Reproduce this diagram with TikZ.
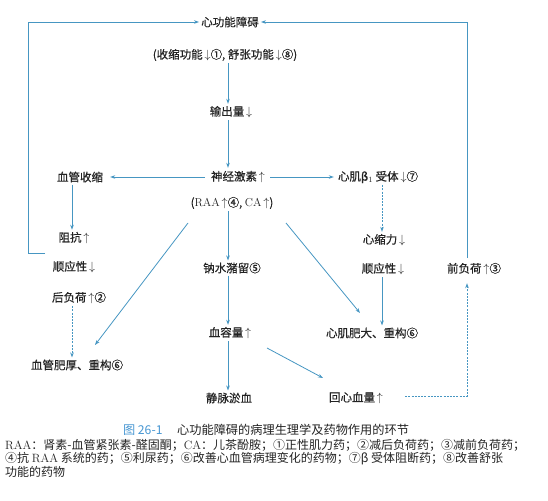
\documentclass[tikz,border=0pt]{standalone}
\usepackage{fontspec}
\newfontfamily\cjk{Noto Sans CJK SC}
\newfontfamily\cjkb[FakeBold=0.5]{Noto Sans CJK SC}
\usetikzlibrary{arrows.meta}
\definecolor{arrblue}{RGB}{70,150,194}
\definecolor{capblue}{RGB}{70,150,210}
\definecolor{txt}{RGB}{35,35,35}
\newcommand{\upa}{\,$\uparrow$}
\newcommand{\dna}{\,$\downarrow$}
\begin{document}
\begin{tikzpicture}[x=1pt,y=-1pt,
  lbl/.style={font=\cjkb\fontsize{11.5}{13}\selectfont, text=txt, inner sep=2pt},
  leg/.style={font=\cjk\fontsize{12}{13}\selectfont, text=txt, inner sep=0pt, anchor=west},
  arr/.style={draw=arrblue, line width=0.8pt, -{Stealth[length=5pt,width=3.6pt]}},
  arrd/.style={arr, dash pattern=on 2pt off 1.2pt}]
\useasboundingbox (0,0) rectangle (548,500);
\coordinate (vx) at (228,0);
\coordinate (lx) at (72,0);
\coordinate (rx) at (382,0);
% nodes
\node[lbl] (xgn) at (230,22) {心功能障碍};
\node[lbl] (paren) at (225,55) {(收缩功能\dna①, 舒张功能\dna⑧)};
\node[lbl] (scl) at (231,112) {输出量\dna};
\node[lbl] (sjjs) at (238,177) {神经激素\upa};
\node[lbl] (raa) at (232,203) {({\rmfamily RAA}\upa④, {\rmfamily CA}\upa)};
\node[lbl] (xgss) at (80,177) {血管收缩};
\node[lbl] (zk) at (74,238) {阻抗\upa};
\node[lbl] (syx1) at (74,267) {顺应性\dna};
\node[lbl] (hfh) at (79,298) {后负荷\upa②};
\node[lbl] (xgfh) at (77,365) {血管肥厚、重构⑥};
\node[lbl] (xjb) at (378,177) {心肌β$_1$ 受体\dna⑦};
\node[lbl] (xsl) at (384,240) {心缩力\dna};
\node[lbl] (syx2) at (383,269) {顺应性\dna};
\node[lbl] (xjfd) at (372,333) {心肌肥大、重构⑥};
\node[lbl] (qfh) at (474,269) {前负荷\upa③};
\node[lbl] (nszl) at (232,268) {钠水潴留⑤};
\node[lbl] (xrl) at (230,333) {血容量\upa};
\node[lbl] (jmyx) at (229,398) {静脉淤血};
\node[lbl] (hxxl) at (356,398) {回心血量\upa};
% connectors
\draw[arr] (paren.south -| vx) -- (scl.north -| vx);
\draw[arr] (scl.south -| vx) -- ([yshift=1pt]sjjs.north -| vx);
\draw[arr] (raa.south -| vx) -- (nszl.north -| vx);
\draw[arr] (nszl.south -| vx) -- (xrl.north -| vx);
\draw[arr] (xrl.south -| vx) -- (jmyx.north -| vx);
\draw[arr] ([xshift=-4pt]sjjs.west) -- ([xshift=5pt]xgss.east);
\draw[arr] ([xshift=3pt]sjjs.east) -- ([xshift=-2pt]xjb.west);
\draw[arr] (xgss.south -| lx) -- (zk.north -| lx);
\draw[arrd] (hfh.south -| lx) -- (xgfh.north -| lx);
\draw[arrd] (xjb.south -| rx) -- (xsl.north -| rx);
\draw[arr] (syx2.south -| rx) -- (xjfd.north -| rx);
\draw[arr] ([shift={(-44,20)}]raa.center) -- ([shift={(18,-20)}]xgfh.center);
\draw[arr] ([shift={(54,20)}]raa.center) -- ([shift={(-12,-20)}]xjfd.center);
\draw[arr] ([shift={(37,15)}]xrl.center) -- ([shift={(-33,-20)}]hxxl.center);
% loops
\coordinate (lb) at (45,253);
\coordinate (rb) at (467,258);
\draw[arr] (lb) -- ++(-17,0) |- (xgn.west);
\draw[arr] (rb) |- (xgn.east);
\draw[arrd] ([shift={(20,-2)}]hxxl.east) -| ([yshift=-6pt]qfh.south -| rb);
% caption
\node[font=\cjk\fontsize{12.2}{13}\selectfont, text=txt, inner sep=0pt] (cap) at (266,430)
  {{\color{capblue}图 26-1}\hspace{1.2em}心功能障碍的病理生理学及药物作用的环节};
\node[leg] (l1) at (5,445) {{\rmfamily RAA}：肾素-血管紧张素-醛固酮；{\rmfamily CA}：儿茶酚胺；①正性肌力药；②减后负荷药；③减前负荷药；};
\node[leg] (l2) at (5,459) {④抗 {\rmfamily RAA} 系统的药；⑤利尿药；⑥改善心血管病理变化的药物；⑦β 受体阻断药；⑧改善舒张};
\node[leg] (l3) at (5,472) {功能的药物};
\end{tikzpicture}
\end{document}
